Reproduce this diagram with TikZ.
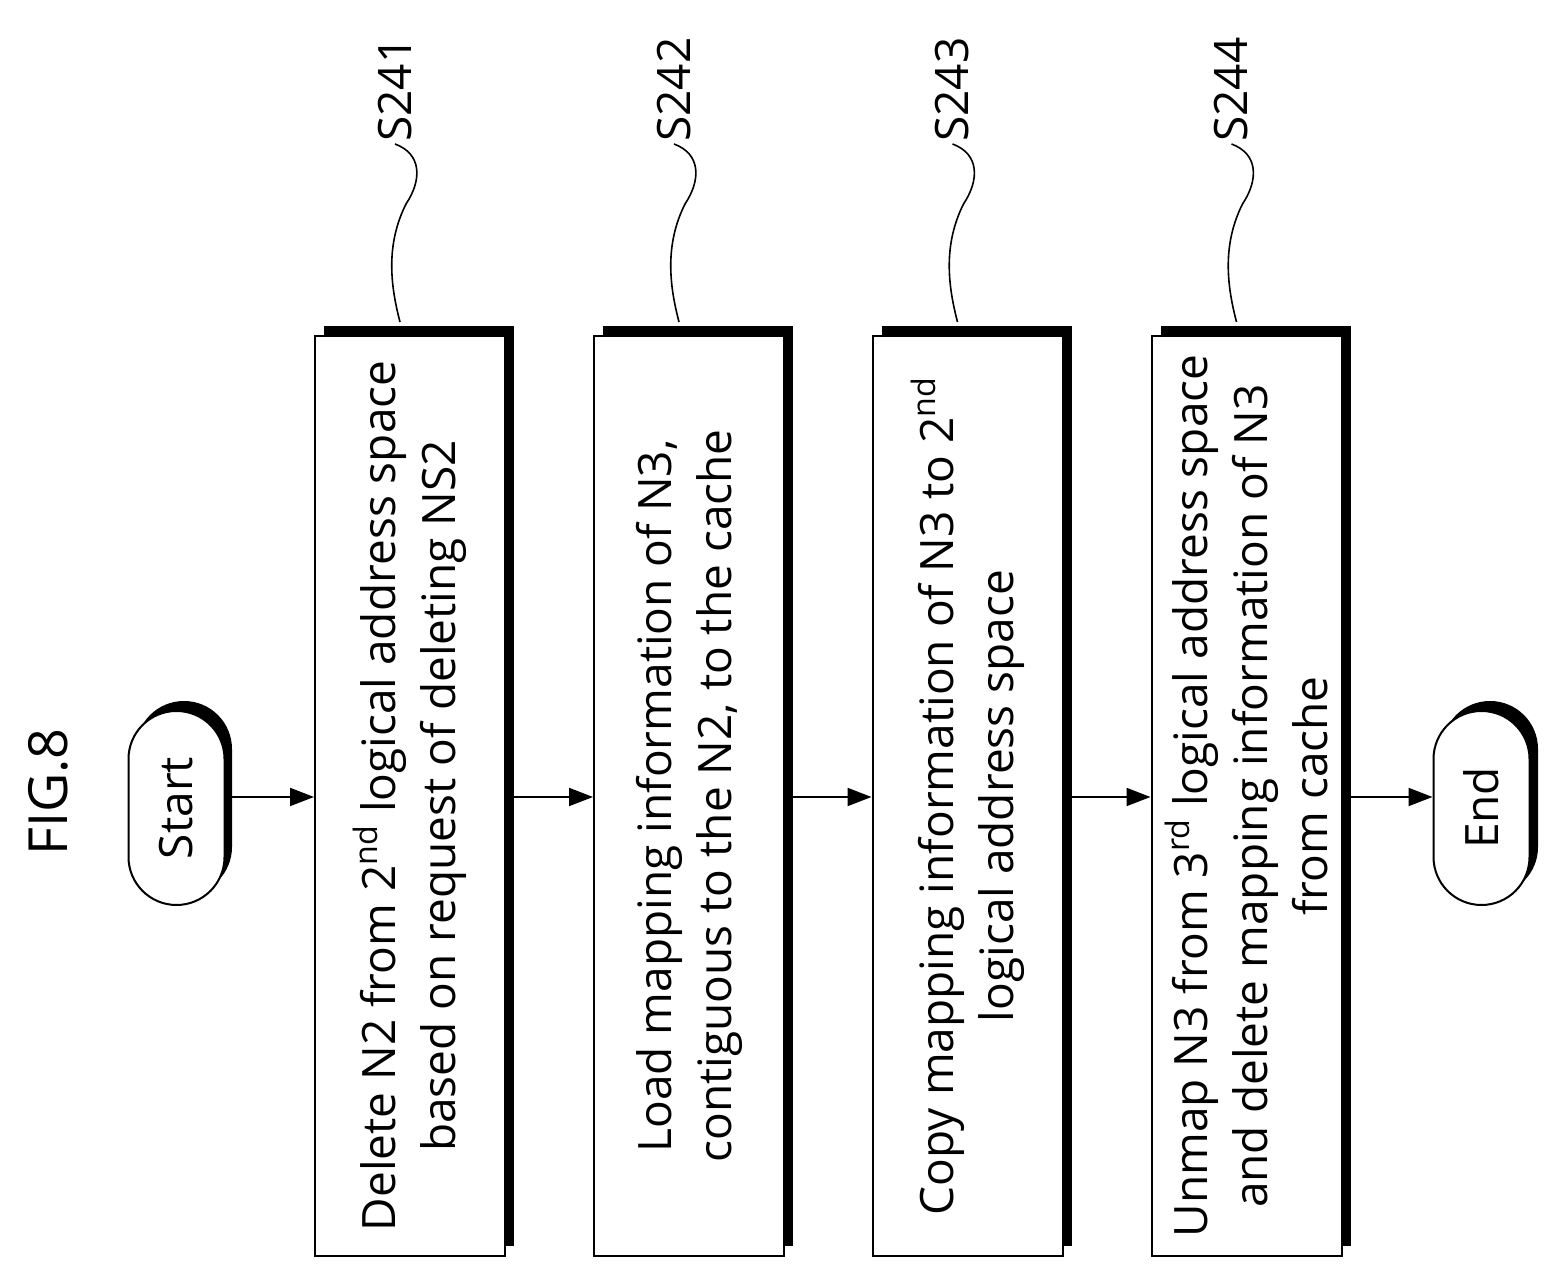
\documentclass[tikz,border=0pt]{standalone}
\usepackage{fontspec}
\setmainfont{Open Sans}
\usetikzlibrary{shapes.misc,arrows.meta}
\begin{document}
\begin{tikzpicture}[x=1pt,y=1pt,
  txt/.style={font=\fontsize{23}{30}\selectfont},
  box/.style={draw,line width=1pt,fill=white,rotate=90,minimum width=460pt,minimum height=95pt,align=center,txt,inner sep=0pt},
  shad/.style={fill=black,rotate=90,minimum width=460pt,minimum height=95pt,inner sep=0pt},
  pill/.style={draw,line width=1pt,fill=white,rounded rectangle,rotate=90,minimum width=97pt,minimum height=48pt,txt,inner sep=0pt},
  pshad/.style={fill=black,rounded rectangle,rotate=90,minimum width=97pt,minimum height=48pt,inner sep=0pt},
  arr/.style={-{Triangle[length=12pt,width=9pt]},line width=1pt},
  lead/.style={line width=0.8pt},
  lab/.style={rotate=90,txt}]
\useasboundingbox (0,0) rectangle (778.5,642);
\node[rotate=90,font=\fontsize{27}{30}\selectfont] (fig) at (24,246) {FIG.8};
% shadows
\node[pshad] (ss) at (92,243) {};
\node[pshad] (es) at (745,243) {};
\foreach \x/\n in {205/1,344.5/2,483.75/3,623.25/4}{
  \node[shad] (sh\n) at (\x+4.5,249) {};}
\node[pill] (start) at (88.25,238) {Start};
\node[pill] (end) at (740.75,238) {End};
\node[box] (b1) at (205,244) {Delete N2 from 2\textsuperscript{nd} logical address space\\based on request of deleting NS2};
\node[box] (b2) at (344.5,244) {Load mapping information of N3,\\contiguous to the N2, to the cache};
\node[box] (b3) at (483.75,244) {Copy mapping information of N3 to 2\textsuperscript{nd}\\logical address space};
\node[box] (b4) at (623.25,244) {Unmap N3 from 3\textsuperscript{rd} logical address space\\and delete mapping information of N3\\from cache};
\draw[arr] (start.south |- 0,243.5) -- (b1.north |- 0,243.5);
\draw[arr] (b1.south |- 0,243.5) -- (b2.north |- 0,243.5);
\draw[arr] (b2.south |- 0,243.5) -- (b3.north |- 0,243.5);
\draw[arr] (b3.south |- 0,243.5) -- (b4.north |- 0,243.5);
\draw[arr] (b4.south |- 0,243.5) -- (end.north |- 0,243.5);
% labels
\foreach \x/\n/\t in {205/1/S241,344.5/2/S242,483.75/3/S243,623.25/4/S244}{
  \node[lab,anchor=west,inner sep=1pt] (l\n) at (\x-7.5,570) {\t};
  \draw[lead] (\x-5,481) .. controls (\x-10,500) and (\x-12,520) .. (\x-2,540)
     .. controls (\x+6,552) and (\x+6,565) .. (l\n.west);
}
\end{tikzpicture}
\end{document}
